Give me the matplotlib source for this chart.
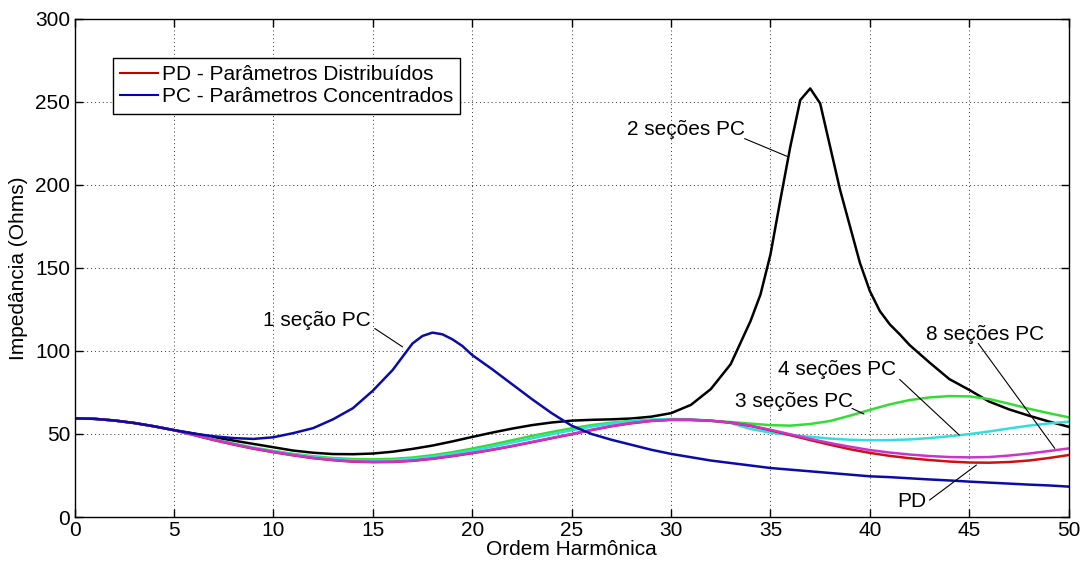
import matplotlib
matplotlib.use("Agg")
import matplotlib.pyplot as plt
from matplotlib.lines import Line2D

plt.rcParams['font.family'] = ['Liberation Sans', 'DejaVu Sans']

# ---------------- data ----------------
harm = list(range(0, 51))

pd_vals = [59.4, 59.1, 58.1, 56.6, 54.6, 52.3, 49.3, 46.3, 43.6, 41.1, 39.0,
           37.1, 35.4, 34.2, 33.3, 33.0, 33.1, 33.8, 35.0, 36.6, 38.4,
           40.4, 42.6, 45.0, 47.4, 49.8, 52.3, 54.6, 56.4, 57.8, 58.5,
           58.5, 58.0, 56.8, 54.8, 52.2, 49.3, 46.3, 43.5, 40.8, 38.6,
           36.8, 35.4, 34.3, 33.4, 32.8, 32.7, 33.1, 34.0, 35.5, 37.3]

pc8_vals = [59.4, 59.1, 58.1, 56.6, 54.6, 52.3, 49.5, 46.5, 43.8, 41.3, 39.2,
            37.3, 35.6, 34.4, 33.5, 33.2, 33.3, 34.0, 35.2, 36.8, 38.6,
            40.6, 42.8, 45.2, 47.6, 50.0, 52.5, 54.8, 56.6, 57.9, 58.5,
            58.5, 58.0, 56.8, 55.0, 52.5, 49.8, 47.0, 44.5, 42.3, 40.3,
            38.8, 37.6, 36.7, 36.1, 35.9, 36.1, 37.0, 38.2, 39.7, 41.3]

pc4_vals = [59.4, 59.1, 58.1, 56.6, 54.6, 52.3, 49.5, 46.6, 43.9, 41.5, 39.5,
            37.6, 36.1, 35.0, 34.2, 33.9, 34.2, 35.0, 36.3, 38.0, 40.0,
            42.3, 44.8, 47.3, 49.8, 52.2, 54.4, 56.3, 57.7, 58.6, 59.0,
            58.8, 58.0, 56.6, 53.0, 50.8, 49.3, 48.3, 47.2, 46.5, 46.2,
            46.3, 46.7, 47.5, 48.6, 49.9, 51.5, 53.3, 55.0, 56.3, 57.4]

pc3_vals = [59.4, 59.1, 58.1, 56.6, 54.6, 52.3, 49.6, 46.8, 44.2, 41.8, 39.8,
            38.0, 36.6, 35.5, 34.9, 34.7, 35.0, 35.8, 37.2, 39.0, 41.2,
            43.6, 46.2, 48.8, 51.2, 53.4, 55.3, 56.8, 57.9, 58.4, 58.5,
            58.3, 57.8, 57.2, 56.2, 55.3, 55.0, 56.0, 57.8, 61.0, 64.5,
            67.8, 70.4, 72.0, 72.8, 72.6, 71.0, 68.2, 65.2, 62.5, 60.0]

harm_pc2 = [0, 1, 2, 3, 4, 5, 6, 7, 8, 9, 10, 11, 12, 13, 14, 15, 16, 17, 18,
            19, 20, 21, 22, 23, 24, 25, 26, 27, 28, 29, 30, 31, 32, 33, 34,
            34.5, 35, 35.5, 36, 36.5, 37, 37.5, 38, 38.5, 39, 39.5, 40, 40.5,
            41, 41.5, 42, 43, 44, 45, 46, 47, 48, 49, 50]
pc2_vals = [59.4, 59.1, 58.1, 56.6, 54.6, 52.3, 50.3, 48.0, 46.0, 44.0, 42.0,
            40.0, 38.7, 37.9, 37.8, 38.2, 39.3, 41.0, 43.0, 45.5, 48.2,
            50.8, 53.2, 55.3, 56.9, 58.0, 58.5, 58.8, 59.3, 60.4, 62.5,
            67.5, 77.0, 92.0, 118.0,
            134.0, 158.0, 191.0, 223.0, 251.0, 258.0, 249.0, 223.0, 197.0,
            175.0, 153.0, 136.0, 124.0,
            116.0, 110.0, 103.5, 93.0, 83.0, 76.5, 69.5, 64.8, 61.0, 57.5, 54.3]

harm_pc1 = [0, 1, 2, 3, 4, 5, 6, 7, 8, 9, 10, 11, 12, 13, 14, 15, 16, 16.5,
            17, 17.5, 18, 18.5, 19, 19.5, 20, 21, 22, 23, 24, 25, 26, 27, 28,
            29, 30, 31, 32, 33, 34, 35, 36, 37, 38, 39, 40, 41, 42, 43, 44,
            45, 46, 47, 48, 49, 50]
pc1_vals = [59.4, 59.1, 58.1, 56.6, 54.6, 52.3, 50.2, 48.6, 47.5, 47.0, 48.0,
            50.5, 53.5, 58.8, 65.5, 76.0, 88.5, 96.5, 104.5, 109.0, 111.0,
            110.0, 107.0, 103.0, 97.5, 89.0, 80.0, 71.0, 62.5, 55.0, 50.0,
            46.5, 43.5, 40.5, 38.0, 36.0, 34.0, 32.5, 31.0, 29.5, 28.5,
            27.5, 26.5, 25.5, 24.5, 24.0, 23.3, 22.6, 22.0, 21.3, 20.7,
            20.1, 19.5, 19.0, 18.3]

legend_labels = ['PD - Parâmetros Distribuídos', 'PC - Parâmetros Concentrados']

annot_texts = ['1 seção PC', '2 seções PC', '3 seções PC', '4 seções PC',
               '8 seções PC', 'PD']
annot_text_pos = [(12.2, 118.3), (30.75, 233.5), (36.2, 69.4), (38.35, 88.9),
                  (45.8, 109.9), (42.1, 9.2)]
annot_line_from = [(15.1, 113.5), (33.7, 227.8), (39.1, 65.4), (41.5, 82.8),
                   (45.45, 104.5), (43.0, 10.2)]
annot_line_to = [(16.5, 102.4), (35.9, 216.8), (39.7, 62.0), (44.5, 49.3),
                 (49.3, 41.3), (45.36, 31.3)]

# ---------------- figure ----------------
fig = plt.figure(figsize=(10.83, 5.63), dpi=100)
ax = fig.add_axes([0.0688, 0.0817, 0.9180, 0.8851])

c_red = '#cc1111'
c_blue = '#0b0ba8'
c_green = '#33dd33'
c_cyan = '#33dddd'
c_mag = '#cc33cc'

lw = 1.8
ax.plot(harm_pc2, pc2_vals, color='black', lw=lw)
ax.plot(harm, pc3_vals, color=c_green, lw=lw)
ax.plot(harm, pc4_vals, color=c_cyan, lw=lw)
ax.plot(harm, pd_vals, color=c_red, lw=lw)
ax.plot(harm, pc8_vals, color=c_mag, lw=lw)
ax.plot(harm_pc1, pc1_vals, color=c_blue, lw=lw)

ax.set_xlim(0, 50)
ax.set_ylim(0, 300)
ax.set_xticks(range(0, 51, 5))
ax.set_yticks(range(0, 301, 50))
ax.grid(True, color='black', linestyle=(0, (1, 3)), linewidth=0.7, alpha=0.8)
ax.tick_params(direction='in', length=6, width=1, top=True, right=True,
               labelsize=15, pad=3)
for s in ax.spines.values():
    s.set_linewidth(1.0)

ax.set_xlabel('Ordem Harmônica', fontsize=15, labelpad=0)
ax.set_ylabel('Impedância (Ohms)', fontsize=15, labelpad=5)

for txt, tp, lf, lt in zip(annot_texts, annot_text_pos, annot_line_from, annot_line_to):
    ax.text(tp[0], tp[1], txt, fontsize=15, ha='center', va='center')
    ax.annotate('', xy=lt, xytext=lf,
                arrowprops=dict(arrowstyle='-', color='black', lw=0.8,
                                shrinkA=0, shrinkB=0))

handles = [Line2D([0], [0], color='#c00000', lw=1.5),
           Line2D([0], [0], color='#0000c0', lw=1.5)]
leg = ax.legend(handles, legend_labels, loc='upper left',
                bbox_to_anchor=(0.0387, 0.921), borderaxespad=0,
                fontsize=15, fancybox=False, framealpha=1, edgecolor='black',
                handlelength=1.8, handletextpad=0.2, labelspacing=0.15,
                borderpad=0.35)
leg.get_frame().set_linewidth(1.0)

fig.savefig('out.png', dpi=100)
